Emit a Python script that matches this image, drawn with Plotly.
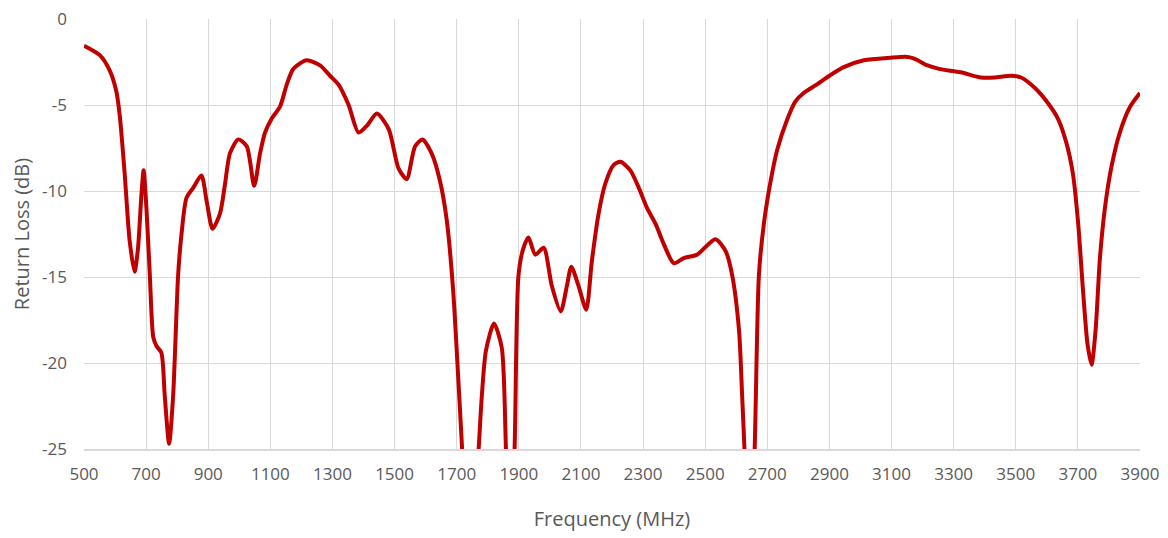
import plotly.graph_objects as go

freq_mhz = [500, 551, 583, 604, 615, 631, 647, 663, 674, 685, 692, 701, 712, 723, 733, 749, 760, 774, 787,
            803, 814, 830, 852, 878, 895, 914, 938, 954, 970, 997, 1024, 1048, 1067, 1083, 1104, 1131,
            1153, 1174, 1217, 1260, 1292, 1319, 1352, 1384, 1411, 1443, 1481, 1513, 1539, 1566, 1590,
            1619, 1646, 1668, 1689, 1705, 1718, 1735, 1750, 1770, 1781, 1794, 1820, 1845, 1859, 1872,
            1886, 1899, 1915, 1931, 1953, 1980, 2006, 2035, 2055, 2069, 2092, 2117, 2135, 2157, 2178,
            2205, 2227, 2259, 2286, 2313, 2340, 2367, 2399, 2431, 2474, 2533, 2566, 2587, 2609, 2619,
            2627, 2643, 2659, 2673, 2689, 2711, 2732, 2765, 2790, 2817, 2860, 2900, 2946, 3011, 3097,
            3146, 3173, 3216, 3253, 3323, 3388, 3431, 3485, 3517, 3561, 3604, 3636, 3663, 3684, 3701,
            3717, 3731, 3744, 3757, 3771, 3787, 3808, 3835, 3868, 3900]
return_loss_db = [-1.55, -2.1, -3.0, -4.2, -5.6, -9.0, -12.9, -14.7, -13.3, -10.2, -8.8, -11.0, -14.9, -18.5,
                  -19.0, -19.4, -21.9, -24.7, -21.9, -14.9, -12.5, -10.4, -9.8, -9.1, -10.6, -12.2, -11.3,
                  -9.6, -7.8, -7.0, -7.4, -9.7, -7.8, -6.6, -5.8, -5.1, -3.8, -2.9, -2.4, -2.7, -3.3, -3.8,
                  -5.0, -6.6, -6.2, -5.5, -6.4, -8.7, -9.3, -7.4, -7.0, -7.8, -9.4, -11.7, -15.9, -20.9,
                  -25.2, -31.0, -31.0, -25.2, -21.9, -19.3, -17.7, -19.1, -25.2, -30.0, -25.2, -14.9,
                  -13.3, -12.7, -13.7, -13.3, -15.5, -17.0, -15.5, -14.4, -15.5, -16.9, -14.1, -11.3,
                  -9.6, -8.5, -8.3, -8.8, -9.8, -11.0, -11.9, -13.1, -14.2, -13.9, -13.7, -12.8, -13.5,
                  -14.9, -18.1, -21.9, -25.2, -32.0, -25.2, -14.9, -11.9, -9.4, -7.6, -5.8, -4.8, -4.3,
                  -3.8, -3.3, -2.8, -2.4, -2.25, -2.2, -2.3, -2.7, -2.9, -3.1, -3.4, -3.4, -3.3, -3.4,
                  -4.0, -4.9, -5.8, -7.2, -9.0, -11.9, -15.9, -18.9, -20.1, -18.1, -13.9, -11.0, -8.6,
                  -6.6, -5.1, -4.3]

x_ticks = list(range(500, 3901, 200))
y_ticks = [0, -5, -10, -15, -20, -25]

fig = go.Figure(go.Scatter(
    x=freq_mhz, y=return_loss_db, mode="lines",
    line=dict(color="#c00000", width=4, shape="spline", smoothing=0.7),
    showlegend=False, cliponaxis=True,
))

tick_font = dict(family="Open Sans, Liberation Sans, sans-serif", size=17, color="#595959")
title_font = dict(family="Open Sans, Liberation Sans, sans-serif", size=20, color="#595959")

fig.update_layout(
    width=1160, height=530,
    margin=dict(l=76, r=28, t=11, b=89),
    paper_bgcolor="white", plot_bgcolor="white",
    xaxis=dict(range=[500, 3900], tickvals=x_ticks, ticktext=[str(v) for v in x_ticks],
               showgrid=True, gridcolor="#d9d9d9", gridwidth=1.3,
               showline=True, linecolor="#d9d9d9", linewidth=1.5, zeroline=False,
               tickfont=tick_font, ticks="", ticklabelstandoff=9, automargin=False,
               ticklabeloverflow="allow",
               title=dict(text="Frequency (MHz)", font=title_font, standoff=28)),
    yaxis=dict(range=[-25, 0], tickvals=y_ticks, ticktext=[str(v) for v in y_ticks],
               showgrid=True, gridcolor="#d9d9d9", gridwidth=1.3,
               showline=False, zeroline=False,
               tickfont=tick_font, ticks="", ticklabelstandoff=16, automargin=False,
               ticklabeloverflow="allow",
               title=dict(text="Return Loss (dB)", font=title_font, standoff=10)),
)

fig.write_html("out.html")
